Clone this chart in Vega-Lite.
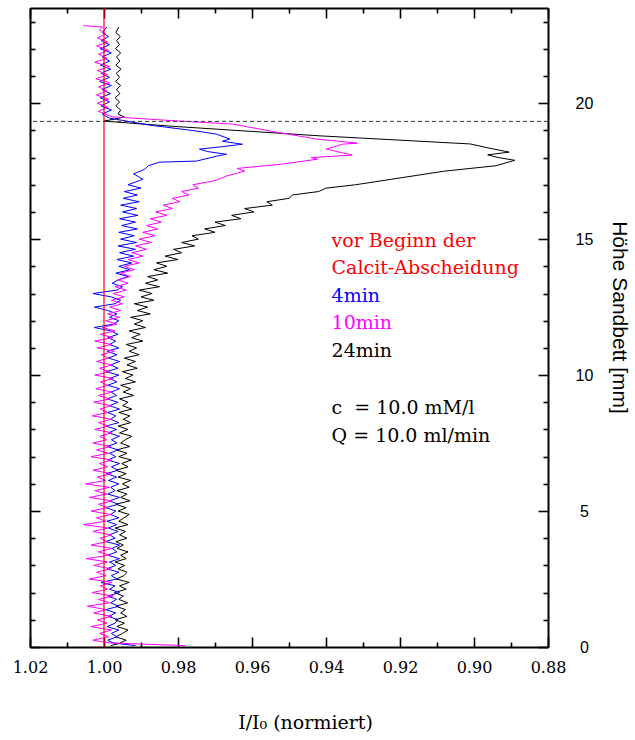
{
  "$schema": "https://vega.github.io/schema/vega-lite/v6.json",
  "width": 518,
  "height": 639,
  "padding": {"left": 12, "top": 7, "right": 4, "bottom": 0},
  "background": "white",
  "config": {
    "view": {"stroke": null},
    "axis": {
      "grid": false,
      "domainColor": "black",
      "domainWidth": 2,
      "tickColor": "black",
      "tickWidth": 1.6,
      "labelColor": "black",
      "titleColor": "black",
      "labelFont": "DejaVu Serif",
      "titleFont": "DejaVu Serif",
      "labelFontSize": 16,
      "titleFontSize": 19,
      "titleFontWeight": "normal",
      "labelFlush": false,
      "labelOverlap": false,
      "labelBound": false,
      "zindex": 1
    }
  },
  "datasets": {
    "lines": [
      {"t":"24min","h":0.05,"v":0.9982},{"t":"24min","h":0.125,"v":0.9960},{"t":"24min","h":0.25,"v":0.9940},{"t":"24min","h":0.375,"v":0.9968},
      {"t":"24min","h":0.5,"v":0.9950},{"t":"24min","h":0.625,"v":0.9935},{"t":"24min","h":0.75,"v":0.9965},{"t":"24min","h":0.875,"v":0.9945},
      {"t":"24min","h":1.0,"v":0.9970},{"t":"24min","h":1.125,"v":0.9938},{"t":"24min","h":1.25,"v":0.9955},{"t":"24min","h":1.375,"v":0.9942},
      {"t":"24min","h":1.5,"v":0.9968},{"t":"24min","h":1.625,"v":0.9936},{"t":"24min","h":1.75,"v":0.9960},{"t":"24min","h":1.875,"v":0.9948},
      {"t":"24min","h":2.0,"v":0.9972},{"t":"24min","h":2.125,"v":0.9940},{"t":"24min","h":2.25,"v":0.9958},{"t":"24min","h":2.375,"v":0.9932},
      {"t":"24min","h":2.5,"v":0.9966},{"t":"24min","h":2.625,"v":0.9946},{"t":"24min","h":2.75,"v":0.9938},{"t":"24min","h":2.875,"v":0.9962},
      {"t":"24min","h":3.0,"v":0.9944},{"t":"24min","h":3.125,"v":0.9970},{"t":"24min","h":3.25,"v":0.9940},{"t":"24min","h":3.375,"v":0.9955},
      {"t":"24min","h":3.5,"v":0.9935},{"t":"24min","h":3.625,"v":0.9965},{"t":"24min","h":3.75,"v":0.9948},{"t":"24min","h":3.875,"v":0.9968},
      {"t":"24min","h":4.0,"v":0.9938},{"t":"24min","h":4.125,"v":0.9958},{"t":"24min","h":4.25,"v":0.9942},{"t":"24min","h":4.375,"v":0.9970},
      {"t":"24min","h":4.5,"v":0.9935},{"t":"24min","h":4.625,"v":0.9960},{"t":"24min","h":4.75,"v":0.9946},{"t":"24min","h":4.875,"v":0.9932},
      {"t":"24min","h":5.0,"v":0.9962},{"t":"24min","h":5.125,"v":0.9940},{"t":"24min","h":5.25,"v":0.9968},{"t":"24min","h":5.375,"v":0.9930},
      {"t":"24min","h":5.5,"v":0.9955},{"t":"24min","h":5.625,"v":0.9938},{"t":"24min","h":5.75,"v":0.9965},{"t":"24min","h":5.875,"v":0.9932},
      {"t":"24min","h":6.0,"v":0.9950},{"t":"24min","h":6.125,"v":0.9928},{"t":"24min","h":6.25,"v":0.9962},{"t":"24min","h":6.375,"v":0.9940},
      {"t":"24min","h":6.5,"v":0.9968},{"t":"24min","h":6.625,"v":0.9935},{"t":"24min","h":6.75,"v":0.9952},{"t":"24min","h":6.875,"v":0.9926},
      {"t":"24min","h":7.0,"v":0.9960},{"t":"24min","h":7.125,"v":0.9938},{"t":"24min","h":7.25,"v":0.9966},{"t":"24min","h":7.375,"v":0.9930},
      {"t":"24min","h":7.5,"v":0.9955},{"t":"24min","h":7.625,"v":0.9942},{"t":"24min","h":7.75,"v":0.9925},{"t":"24min","h":7.875,"v":0.9958},
      {"t":"24min","h":8.0,"v":0.9935},{"t":"24min","h":8.125,"v":0.9962},{"t":"24min","h":8.25,"v":0.9928},{"t":"24min","h":8.375,"v":0.9948},
      {"t":"24min","h":8.5,"v":0.9930},{"t":"24min","h":8.625,"v":0.9960},{"t":"24min","h":8.75,"v":0.9925},{"t":"24min","h":8.875,"v":0.9950},
      {"t":"24min","h":9.0,"v":0.9935},{"t":"24min","h":9.125,"v":0.9958},{"t":"24min","h":9.25,"v":0.9920},{"t":"24min","h":9.375,"v":0.9948},
      {"t":"24min","h":9.5,"v":0.9928},{"t":"24min","h":9.625,"v":0.9955},{"t":"24min","h":9.75,"v":0.9915},{"t":"24min","h":9.875,"v":0.9942},
      {"t":"24min","h":10.0,"v":0.9922},{"t":"24min","h":10.125,"v":0.9950},{"t":"24min","h":10.25,"v":0.9910},{"t":"24min","h":10.375,"v":0.9938},
      {"t":"24min","h":10.5,"v":0.9915},{"t":"24min","h":10.625,"v":0.9945},{"t":"24min","h":10.75,"v":0.9905},{"t":"24min","h":10.875,"v":0.9932},
      {"t":"24min","h":11.0,"v":0.9912},{"t":"24min","h":11.125,"v":0.9940},{"t":"24min","h":11.25,"v":0.9895},{"t":"24min","h":11.375,"v":0.9925},
      {"t":"24min","h":11.5,"v":0.9902},{"t":"24min","h":11.625,"v":0.9932},{"t":"24min","h":11.75,"v":0.9888},{"t":"24min","h":11.875,"v":0.9918},
      {"t":"24min","h":12.0,"v":0.9895},{"t":"24min","h":12.125,"v":0.9928},{"t":"24min","h":12.25,"v":0.9875},{"t":"24min","h":12.375,"v":0.9910},
      {"t":"24min","h":12.5,"v":0.9882},{"t":"24min","h":12.625,"v":0.9918},{"t":"24min","h":12.75,"v":0.9865},{"t":"24min","h":12.875,"v":0.9900},
      {"t":"24min","h":13.0,"v":0.9870},{"t":"24min","h":13.125,"v":0.9905},{"t":"24min","h":13.25,"v":0.9850},{"t":"24min","h":13.375,"v":0.9888},
      {"t":"24min","h":13.5,"v":0.9855},{"t":"24min","h":13.625,"v":0.9882},{"t":"24min","h":13.75,"v":0.9828},{"t":"24min","h":13.875,"v":0.9865},
      {"t":"24min","h":14.0,"v":0.9830},{"t":"24min","h":14.125,"v":0.9858},{"t":"24min","h":14.25,"v":0.9800},{"t":"24min","h":14.375,"v":0.9835},
      {"t":"24min","h":14.5,"v":0.9790},{"t":"24min","h":14.625,"v":0.9812},{"t":"24min","h":14.75,"v":0.9755},{"t":"24min","h":14.875,"v":0.9790},
      {"t":"24min","h":15.0,"v":0.9745},{"t":"24min","h":15.125,"v":0.9762},{"t":"24min","h":15.25,"v":0.9700},{"t":"24min","h":15.375,"v":0.9728},
      {"t":"24min","h":15.5,"v":0.9672},{"t":"24min","h":15.625,"v":0.9700},{"t":"24min","h":15.75,"v":0.9630},{"t":"24min","h":15.875,"v":0.9655},
      {"t":"24min","h":16.0,"v":0.9595},{"t":"24min","h":16.125,"v":0.9620},{"t":"24min","h":16.25,"v":0.9545},{"t":"24min","h":16.375,"v":0.9560},
      {"t":"24min","h":16.5,"v":0.9500},{"t":"24min","h":16.625,"v":0.9490},{"t":"24min","h":16.75,"v":0.9420},{"t":"24min","h":16.875,"v":0.9400},
      {"t":"24min","h":17.0,"v":0.9320},{"t":"24min","h":17.25,"v":0.9200},{"t":"24min","h":17.5,"v":0.9080},{"t":"24min","h":17.7,"v":0.8940},
      {"t":"24min","h":17.9,"v":0.8890},{"t":"24min","h":18.0,"v":0.8935},{"t":"24min","h":18.1,"v":0.8963},{"t":"24min","h":18.2,"v":0.8905},
      {"t":"24min","h":18.35,"v":0.8960},{"t":"24min","h":18.5,"v":0.9010},{"t":"24min","h":18.8,"v":0.9418},{"t":"24min","h":19.15,"v":0.9815},
      {"t":"24min","h":19.34,"v":1.0000},{"t":"24min","h":19.49,"v":0.9945},{"t":"24min","h":19.6,"v":0.9962},{"t":"24min","h":19.75,"v":0.9955},
      {"t":"24min","h":19.9,"v":0.9968},{"t":"24min","h":20.05,"v":0.9958},{"t":"24min","h":20.2,"v":0.9970},{"t":"24min","h":20.35,"v":0.9957},
      {"t":"24min","h":20.5,"v":0.9966},{"t":"24min","h":20.65,"v":0.9955},{"t":"24min","h":20.8,"v":0.9969},{"t":"24min","h":20.95,"v":0.9958},
      {"t":"24min","h":21.1,"v":0.9967},{"t":"24min","h":21.25,"v":0.9954},{"t":"24min","h":21.4,"v":0.9968},{"t":"24min","h":21.55,"v":0.9957},
      {"t":"24min","h":21.7,"v":0.9966},{"t":"24min","h":21.85,"v":0.9955},{"t":"24min","h":22.0,"v":0.9969},{"t":"24min","h":22.15,"v":0.9958},
      {"t":"24min","h":22.3,"v":0.9966},{"t":"24min","h":22.45,"v":0.9956},{"t":"24min","h":22.6,"v":0.9968},{"t":"24min","h":22.8,"v":0.9960},

      {"t":"4min","h":0.05,"v":0.9915},{"t":"4min","h":0.15,"v":0.9975},{"t":"4min","h":0.25,"v":0.9990},{"t":"4min","h":0.375,"v":0.9965},
      {"t":"4min","h":0.5,"v":0.9980},{"t":"4min","h":0.625,"v":0.9960},{"t":"4min","h":0.75,"v":0.9992},{"t":"4min","h":0.875,"v":0.9970},
      {"t":"4min","h":1.0,"v":0.9962},{"t":"4min","h":1.125,"v":0.9988},{"t":"4min","h":1.25,"v":0.9968},{"t":"4min","h":1.375,"v":0.9995},
      {"t":"4min","h":1.5,"v":0.9960},{"t":"4min","h":1.625,"v":0.9982},{"t":"4min","h":1.75,"v":0.9966},{"t":"4min","h":1.875,"v":0.9990},
      {"t":"4min","h":2.0,"v":0.9958},{"t":"4min","h":2.125,"v":0.9985},{"t":"4min","h":2.25,"v":0.9970},{"t":"4min","h":2.375,"v":1.0008},
      {"t":"4min","h":2.5,"v":0.9965},{"t":"4min","h":2.625,"v":0.9980},{"t":"4min","h":2.75,"v":0.9960},{"t":"4min","h":2.875,"v":0.9992},
      {"t":"4min","h":3.0,"v":0.9968},{"t":"4min","h":3.125,"v":0.9985},{"t":"4min","h":3.25,"v":0.9958},{"t":"4min","h":3.375,"v":0.9990},
      {"t":"4min","h":3.5,"v":0.9965},{"t":"4min","h":3.625,"v":0.9978},{"t":"4min","h":3.75,"v":0.9958},{"t":"4min","h":3.875,"v":0.9995},
      {"t":"4min","h":4.0,"v":0.9970},{"t":"4min","h":4.125,"v":0.9985},{"t":"4min","h":4.25,"v":0.9962},{"t":"4min","h":4.375,"v":0.9988},
      {"t":"4min","h":4.5,"v":0.9966},{"t":"4min","h":4.625,"v":0.9992},{"t":"4min","h":4.75,"v":0.9960},{"t":"4min","h":4.875,"v":0.9982},
      {"t":"4min","h":5.0,"v":0.9968},{"t":"4min","h":5.125,"v":0.9995},{"t":"4min","h":5.25,"v":0.9962},{"t":"4min","h":5.375,"v":0.9985},
      {"t":"4min","h":5.5,"v":0.9958},{"t":"4min","h":5.625,"v":0.9990},{"t":"4min","h":5.75,"v":0.9970},{"t":"4min","h":5.875,"v":0.9982},
      {"t":"4min","h":6.0,"v":0.9960},{"t":"4min","h":6.125,"v":0.9988},{"t":"4min","h":6.25,"v":0.9966},{"t":"4min","h":6.375,"v":0.9994},
      {"t":"4min","h":6.5,"v":0.9962},{"t":"4min","h":6.625,"v":0.9980},{"t":"4min","h":6.75,"v":0.9958},{"t":"4min","h":6.875,"v":0.9990},
      {"t":"4min","h":7.0,"v":0.9968},{"t":"4min","h":7.125,"v":0.9985},{"t":"4min","h":7.25,"v":0.9962},{"t":"4min","h":7.375,"v":0.9992},
      {"t":"4min","h":7.5,"v":0.9965},{"t":"4min","h":7.625,"v":0.9980},{"t":"4min","h":7.75,"v":0.9958},{"t":"4min","h":7.875,"v":0.9988},
      {"t":"4min","h":8.0,"v":0.9966},{"t":"4min","h":8.125,"v":0.9995},{"t":"4min","h":8.25,"v":0.9960},{"t":"4min","h":8.375,"v":0.9982},
      {"t":"4min","h":8.5,"v":0.9968},{"t":"4min","h":8.625,"v":0.9990},{"t":"4min","h":8.75,"v":0.9958},{"t":"4min","h":8.875,"v":0.9985},
      {"t":"4min","h":9.0,"v":0.9962},{"t":"4min","h":9.125,"v":0.9992},{"t":"4min","h":9.25,"v":0.9966},{"t":"4min","h":9.375,"v":0.9980},
      {"t":"4min","h":9.5,"v":0.9958},{"t":"4min","h":9.625,"v":0.9990},{"t":"4min","h":9.75,"v":0.9965},{"t":"4min","h":9.875,"v":0.9985},
      {"t":"4min","h":10.0,"v":0.9960},{"t":"4min","h":10.125,"v":0.9995},{"t":"4min","h":10.25,"v":0.9962},{"t":"4min","h":10.375,"v":0.9982},
      {"t":"4min","h":10.5,"v":0.9958},{"t":"4min","h":10.625,"v":0.9988},{"t":"4min","h":10.75,"v":0.9965},{"t":"4min","h":10.875,"v":0.9992},
      {"t":"4min","h":11.0,"v":0.9960},{"t":"4min","h":11.125,"v":0.9985},{"t":"4min","h":11.25,"v":0.9968},{"t":"4min","h":11.375,"v":0.9990},
      {"t":"4min","h":11.5,"v":0.9962},{"t":"4min","h":11.625,"v":0.9982},{"t":"4min","h":11.75,"v":1.0026},{"t":"4min","h":11.875,"v":0.9975},
      {"t":"4min","h":12.0,"v":0.9960},{"t":"4min","h":12.125,"v":0.9985},{"t":"4min","h":12.25,"v":0.9965},{"t":"4min","h":12.375,"v":0.9990},
      {"t":"4min","h":12.5,"v":1.0026},{"t":"4min","h":12.625,"v":0.9970},{"t":"4min","h":12.75,"v":0.9955},{"t":"4min","h":12.875,"v":0.9980},
      {"t":"4min","h":13.0,"v":1.0030},{"t":"4min","h":13.125,"v":0.9965},{"t":"4min","h":13.25,"v":0.9950},{"t":"4min","h":13.375,"v":0.9978},
      {"t":"4min","h":13.5,"v":0.9962},{"t":"4min","h":13.625,"v":0.9935},{"t":"4min","h":13.75,"v":0.9968},{"t":"4min","h":13.875,"v":0.9930},
      {"t":"4min","h":14.0,"v":0.9960},{"t":"4min","h":14.125,"v":0.9925},{"t":"4min","h":14.25,"v":0.9965},{"t":"4min","h":14.375,"v":0.9920},
      {"t":"4min","h":14.5,"v":0.9958},{"t":"4min","h":14.625,"v":0.9915},{"t":"4min","h":14.75,"v":0.9962},{"t":"4min","h":14.875,"v":0.9912},
      {"t":"4min","h":15.0,"v":0.9955},{"t":"4min","h":15.125,"v":0.9918},{"t":"4min","h":15.25,"v":0.9960},{"t":"4min","h":15.375,"v":0.9910},
      {"t":"4min","h":15.5,"v":0.9952},{"t":"4min","h":15.625,"v":0.9915},{"t":"4min","h":15.75,"v":0.9958},{"t":"4min","h":15.875,"v":0.9908},
      {"t":"4min","h":16.0,"v":0.9950},{"t":"4min","h":16.125,"v":0.9912},{"t":"4min","h":16.25,"v":0.9955},{"t":"4min","h":16.375,"v":0.9905},
      {"t":"4min","h":16.5,"v":0.9948},{"t":"4min","h":16.625,"v":0.9910},{"t":"4min","h":16.75,"v":0.9945},{"t":"4min","h":16.875,"v":0.9900},
      {"t":"4min","h":17.0,"v":0.9935},{"t":"4min","h":17.2,"v":0.9895},{"t":"4min","h":17.4,"v":0.9920},
      {"t":"4min","h":17.57,"v":0.9890},{"t":"4min","h":17.7,"v":0.9880},{"t":"4min","h":17.83,"v":0.9850},{"t":"4min","h":17.87,"v":0.9750},
      {"t":"4min","h":18.05,"v":0.9696},{"t":"4min","h":18.12,"v":0.9669},{"t":"4min","h":18.22,"v":0.9720},{"t":"4min","h":18.31,"v":0.9742},
      {"t":"4min","h":18.4,"v":0.9680},{"t":"4min","h":18.49,"v":0.9626},{"t":"4min","h":18.6,"v":0.9680},{"t":"4min","h":18.68,"v":0.9660},
      {"t":"4min","h":18.86,"v":0.9696},{"t":"4min","h":18.97,"v":0.9747},{"t":"4min","h":19.2,"v":0.9880},{"t":"4min","h":19.45,"v":0.9985},
      {"t":"4min","h":19.6,"v":1.0005},{"t":"4min","h":19.75,"v":0.9980},{"t":"4min","h":19.9,"v":1.0008},{"t":"4min","h":20.05,"v":0.9985},
      {"t":"4min","h":20.2,"v":1.0010},{"t":"4min","h":20.35,"v":0.9982},{"t":"4min","h":20.5,"v":1.0005},{"t":"4min","h":20.65,"v":0.9980},
      {"t":"4min","h":20.8,"v":1.0012},{"t":"4min","h":20.95,"v":0.9985},{"t":"4min","h":21.1,"v":1.0008},{"t":"4min","h":21.25,"v":0.9982},
      {"t":"4min","h":21.4,"v":1.0010},{"t":"4min","h":21.55,"v":0.9985},{"t":"4min","h":21.7,"v":1.0005},{"t":"4min","h":21.85,"v":0.9980},
      {"t":"4min","h":22.0,"v":1.0010},{"t":"4min","h":22.15,"v":0.9985},{"t":"4min","h":22.3,"v":1.0008},{"t":"4min","h":22.45,"v":0.9988},
      {"t":"4min","h":22.6,"v":1.0005},{"t":"4min","h":22.8,"v":0.9992},

      {"t":"10min","h":0.05,"v":0.9780},{"t":"10min","h":0.15,"v":0.9985},{"t":"10min","h":0.25,"v":1.0030},{"t":"10min","h":0.375,"v":0.9988},
      {"t":"10min","h":0.5,"v":1.0012},{"t":"10min","h":0.625,"v":0.9980},{"t":"10min","h":0.75,"v":1.0035},{"t":"10min","h":0.875,"v":0.9992},
      {"t":"10min","h":1.0,"v":1.0018},{"t":"10min","h":1.125,"v":0.9978},{"t":"10min","h":1.25,"v":1.0028},{"t":"10min","h":1.375,"v":0.9995},
      {"t":"10min","h":1.5,"v":1.0045},{"t":"10min","h":1.625,"v":0.9985},{"t":"10min","h":1.75,"v":1.0015},{"t":"10min","h":1.875,"v":0.9975},
      {"t":"10min","h":2.0,"v":1.0032},{"t":"10min","h":2.125,"v":0.9990},{"t":"10min","h":2.25,"v":1.0010},{"t":"10min","h":2.375,"v":0.9978},
      {"t":"10min","h":2.5,"v":1.0040},{"t":"10min","h":2.625,"v":0.9995},{"t":"10min","h":2.75,"v":1.0020},{"t":"10min","h":2.875,"v":0.9982},
      {"t":"10min","h":3.0,"v":1.0028},{"t":"10min","h":3.125,"v":0.9990},{"t":"10min","h":3.25,"v":1.0048},{"t":"10min","h":3.375,"v":0.9985},
      {"t":"10min","h":3.5,"v":1.0015},{"t":"10min","h":3.625,"v":0.9978},{"t":"10min","h":3.75,"v":1.0035},{"t":"10min","h":3.875,"v":0.9992},
      {"t":"10min","h":4.0,"v":1.0010},{"t":"10min","h":4.125,"v":0.9980},{"t":"10min","h":4.25,"v":1.0030},{"t":"10min","h":4.375,"v":0.9988},
      {"t":"10min","h":4.5,"v":1.0055},{"t":"10min","h":4.625,"v":0.9995},{"t":"10min","h":4.75,"v":1.0020},{"t":"10min","h":4.875,"v":0.9982},
      {"t":"10min","h":5.0,"v":1.0035},{"t":"10min","h":5.125,"v":0.9990},{"t":"10min","h":5.25,"v":1.0015},{"t":"10min","h":5.375,"v":0.9978},
      {"t":"10min","h":5.5,"v":1.0040},{"t":"10min","h":5.625,"v":0.9992},{"t":"10min","h":5.75,"v":1.0025},{"t":"10min","h":5.875,"v":0.9985},
      {"t":"10min","h":6.0,"v":1.0050},{"t":"10min","h":6.125,"v":0.9995},{"t":"10min","h":6.25,"v":1.0018},{"t":"10min","h":6.375,"v":0.9980},
      {"t":"10min","h":6.5,"v":1.0030},{"t":"10min","h":6.625,"v":0.9990},{"t":"10min","h":6.75,"v":1.0012},{"t":"10min","h":6.875,"v":0.9978},
      {"t":"10min","h":7.0,"v":1.0035},{"t":"10min","h":7.125,"v":0.9988},{"t":"10min","h":7.25,"v":1.0020},{"t":"10min","h":7.375,"v":0.9982},
      {"t":"10min","h":7.5,"v":1.0030},{"t":"10min","h":7.625,"v":0.9992},{"t":"10min","h":7.75,"v":1.0012},{"t":"10min","h":7.875,"v":0.9978},
      {"t":"10min","h":8.0,"v":1.0025},{"t":"10min","h":8.125,"v":0.9988},{"t":"10min","h":8.25,"v":1.0015},{"t":"10min","h":8.375,"v":0.9980},
      {"t":"10min","h":8.5,"v":1.0032},{"t":"10min","h":8.625,"v":0.9990},{"t":"10min","h":8.75,"v":1.0010},{"t":"10min","h":8.875,"v":0.9982},
      {"t":"10min","h":9.0,"v":1.0028},{"t":"10min","h":9.125,"v":0.9985},{"t":"10min","h":9.25,"v":1.0015},{"t":"10min","h":9.375,"v":0.9978},
      {"t":"10min","h":9.5,"v":1.0022},{"t":"10min","h":9.625,"v":0.9990},{"t":"10min","h":9.75,"v":1.0010},{"t":"10min","h":9.875,"v":0.9975},
      {"t":"10min","h":10.0,"v":1.0025},{"t":"10min","h":10.125,"v":0.9985},{"t":"10min","h":10.25,"v":1.0012},{"t":"10min","h":10.375,"v":0.9978},
      {"t":"10min","h":10.5,"v":1.0020},{"t":"10min","h":10.625,"v":0.9988},{"t":"10min","h":10.75,"v":1.0008},{"t":"10min","h":10.875,"v":0.9972},
      {"t":"10min","h":11.0,"v":1.0018},{"t":"10min","h":11.125,"v":0.9980},{"t":"10min","h":11.25,"v":1.0025},{"t":"10min","h":11.375,"v":0.9975},
      {"t":"10min","h":11.5,"v":1.0010},{"t":"10min","h":11.625,"v":0.9970},{"t":"10min","h":11.75,"v":1.0005},{"t":"10min","h":11.875,"v":0.9965},
      {"t":"10min","h":12.0,"v":0.9995},{"t":"10min","h":12.125,"v":0.9958},{"t":"10min","h":12.25,"v":0.9990},{"t":"10min","h":12.375,"v":0.9955},
      {"t":"10min","h":12.5,"v":0.9985},{"t":"10min","h":12.625,"v":0.9950},{"t":"10min","h":12.75,"v":0.9980},{"t":"10min","h":12.875,"v":0.9945},
      {"t":"10min","h":13.0,"v":0.9975},{"t":"10min","h":13.125,"v":0.9940},{"t":"10min","h":13.25,"v":0.9970},{"t":"10min","h":13.375,"v":0.9935},
      {"t":"10min","h":13.5,"v":0.9962},{"t":"10min","h":13.625,"v":0.9928},{"t":"10min","h":13.75,"v":0.9955},{"t":"10min","h":13.875,"v":0.9918},
      {"t":"10min","h":14.0,"v":0.9945},{"t":"10min","h":14.125,"v":0.9905},{"t":"10min","h":14.25,"v":0.9935},{"t":"10min","h":14.375,"v":0.9895},
      {"t":"10min","h":14.5,"v":0.9925},{"t":"10min","h":14.625,"v":0.9885},{"t":"10min","h":14.75,"v":0.9915},{"t":"10min","h":14.875,"v":0.9872},
      {"t":"10min","h":15.0,"v":0.9905},{"t":"10min","h":15.125,"v":0.9862},{"t":"10min","h":15.25,"v":0.9895},{"t":"10min","h":15.375,"v":0.9855},
      {"t":"10min","h":15.5,"v":0.9885},{"t":"10min","h":15.625,"v":0.9845},{"t":"10min","h":15.75,"v":0.9875},{"t":"10min","h":15.875,"v":0.9830},
      {"t":"10min","h":16.0,"v":0.9860},{"t":"10min","h":16.125,"v":0.9815},{"t":"10min","h":16.25,"v":0.9840},{"t":"10min","h":16.375,"v":0.9795},
      {"t":"10min","h":16.5,"v":0.9815},{"t":"10min","h":16.625,"v":0.9770},{"t":"10min","h":16.75,"v":0.9790},{"t":"10min","h":16.875,"v":0.9745},
      {"t":"10min","h":17.0,"v":0.9760},{"t":"10min","h":17.15,"v":0.9700},{"t":"10min","h":17.32,"v":0.9669},
      {"t":"10min","h":17.5,"v":0.9620},{"t":"10min","h":17.6,"v":0.9640},{"t":"10min","h":17.76,"v":0.9518},{"t":"10min","h":17.94,"v":0.9423},
      {"t":"10min","h":18.0,"v":0.9440},{"t":"10min","h":18.09,"v":0.9329},{"t":"10min","h":18.31,"v":0.9399},{"t":"10min","h":18.49,"v":0.9356},
      {"t":"10min","h":18.53,"v":0.9315},{"t":"10min","h":18.68,"v":0.9426},{"t":"10min","h":19.0,"v":0.9560},{"t":"10min","h":19.23,"v":0.9652},
      {"t":"10min","h":19.37,"v":0.9830},{"t":"10min","h":19.5,"v":0.9978},{"t":"10min","h":19.7,"v":1.0015},{"t":"10min","h":19.85,"v":0.9990},
      {"t":"10min","h":20.0,"v":1.0018},{"t":"10min","h":20.15,"v":0.9988},{"t":"10min","h":20.3,"v":1.0020},{"t":"10min","h":20.45,"v":0.9992},
      {"t":"10min","h":20.6,"v":1.0015},{"t":"10min","h":20.75,"v":0.9985},{"t":"10min","h":20.9,"v":1.0022},{"t":"10min","h":21.05,"v":0.9990},
      {"t":"10min","h":21.2,"v":1.0018},{"t":"10min","h":21.35,"v":0.9985},{"t":"10min","h":21.5,"v":1.0025},{"t":"10min","h":21.65,"v":0.9992},
      {"t":"10min","h":21.8,"v":1.0015},{"t":"10min","h":21.95,"v":0.9988},{"t":"10min","h":22.1,"v":1.0020},{"t":"10min","h":22.25,"v":0.9990},
      {"t":"10min","h":22.4,"v":1.0018},{"t":"10min","h":22.55,"v":0.9995},{"t":"10min","h":22.7,"v":1.0012},{"t":"10min","h":22.8,"v":1.0004},
      {"t":"10min","h":22.85,"v":1.0056}
    ],
    "ref": [{"t":"vor","v":1.0}],
    "sand": [{"h":19.33}],
    "legend": [
      {"t":"vor","v":0.9385,"h":14.71,"label":"vor Beginn der"},
      {"t":"vor","v":0.9385,"h":13.71,"label":"Calcit-Abscheidung"},
      {"t":"4min","v":0.9385,"h":12.68,"label":"4min"},
      {"t":"10min","v":0.9385,"h":11.69,"label":"10min"},
      {"t":"24min","v":0.9385,"h":10.66,"label":"24min"}
    ],
    "info": [
      {"v":0.9385,"h":8.57,"label":"c\u00a0 = 10.0 mM/l"},
      {"v":0.9385,"h":7.54,"label":"Q = 10.0 ml/min"}
    ]
  },
  "layer": [
    {
      "data": {"name": "lines"},
      "mark": {"type": "line", "strokeWidth": 1, "interpolate": "linear"},
      "encoding": {
        "x": {"field": "v", "type": "quantitative",
          "scale": {"domain": [0.88, 1.02], "reverse": true, "nice": false, "zero": false},
          "axis": {"orient": "bottom", "values": [0.88,0.9,0.92,0.94,0.96,0.98,1.0,1.02], "format": ".2f",
            "tickSize": -10, "labelPadding": 22, "title": "I/I\u2080 (normiert)",
            "titleX": 275, "titleY": 81, "titleBaseline": "alphabetic", "titleAlign": "center"}},
        "y": {"field": "h", "type": "quantitative",
          "scale": {"domain": [0, 23.5], "nice": false, "zero": false},
          "axis": {"orient": "right", "values": [0,5,10,15,20], "format": "d",
            "tickSize": -10, "labelPadding": 46, "labelAlign": "center", "labelBaseline": "middle",
            "labelFont": "Liberation Sans", "labelFontSize": 16,
            "title": "Höhe Sandbett [mm]", "titleFont": "Liberation Sans", "titleFontSize": 21,
            "titleAngle": 90, "titleX": 70, "titleY": 309,
            "titleAlign": "center", "titleBaseline": "middle"}},
        "color": {"field": "t", "type": "nominal",
          "scale": {"domain": ["vor","4min","10min","24min"], "range": ["#ff0000","#0000ff","#ff00ff","#000000"]},
          "legend": null},
        "order": {"field": "h", "type": "quantitative"}
      }
    },
    {
      "data": {"name": "ref"},
      "mark": {"type": "rule", "strokeWidth": 1.2},
      "encoding": {
        "x": {"field": "v", "type": "quantitative",
          "scale": {"domain": [0.88, 1.02], "reverse": true, "nice": false, "zero": false},
          "axis": {"orient": "bottom", "values": [0.89,0.91,0.93,0.95,0.97,0.99,1.01],
            "tickSize": -5, "labels": false, "domain": false, "title": null}},
        "color": {"field": "t", "type": "nominal",
          "scale": {"domain": ["vor","4min","10min","24min"], "range": ["#ff0000","#0000ff","#ff00ff","#000000"]},
          "legend": null}
      }
    },
    {
      "data": {"name": "sand"},
      "mark": {"type": "rule", "strokeWidth": 1, "strokeDash": [4, 3], "color": "#333333"},
      "encoding": {
        "y": {"field": "h", "type": "quantitative",
          "scale": {"domain": [0, 23.5], "nice": false, "zero": false},
          "axis": {"orient": "right", "values": [1,2,3,4,6,7,8,9,11,12,13,14,16,17,18,19,21,22,23],
            "tickSize": -5, "labels": false, "domain": false, "title": null}}
      }
    },
    {
      "data": {"name": "legend"},
      "mark": {"type": "text", "align": "left", "baseline": "alphabetic", "font": "DejaVu Serif", "fontSize": 19},
      "encoding": {
        "x": {"field": "v", "type": "quantitative",
          "scale": {"domain": [0.88, 1.02], "reverse": true, "nice": false, "zero": false},
          "axis": {"orient": "top", "values": [0.88,0.9,0.92,0.94,0.96,0.98,1.0,1.02],
            "tickSize": -10, "labels": false, "title": null}},
        "y": {"field": "h", "type": "quantitative",
          "scale": {"domain": [0, 23.5], "nice": false, "zero": false},
          "axis": {"orient": "left", "values": [0,5,10,15,20],
            "tickSize": -10, "labels": false, "title": null}},
        "text": {"field": "label"},
        "color": {"field": "t", "type": "nominal",
          "scale": {"domain": ["vor","4min","10min","24min"], "range": ["#ff0000","#0000ff","#ff00ff","#000000"]},
          "legend": null}
      }
    },
    {
      "data": {"name": "info"},
      "mark": {"type": "text", "align": "left", "baseline": "alphabetic", "font": "DejaVu Serif", "fontSize": 19, "color": "black"},
      "encoding": {
        "x": {"field": "v", "type": "quantitative",
          "scale": {"domain": [0.88, 1.02], "reverse": true, "nice": false, "zero": false},
          "axis": {"orient": "top", "values": [0.89,0.91,0.93,0.95,0.97,0.99,1.01],
            "tickSize": -5, "labels": false, "domain": false, "title": null}},
        "y": {"field": "h", "type": "quantitative",
          "scale": {"domain": [0, 23.5], "nice": false, "zero": false},
          "axis": {"orient": "left", "values": [1,2,3,4,6,7,8,9,11,12,13,14,16,17,18,19,21,22,23],
            "tickSize": -5, "labels": false, "domain": false, "title": null}},
        "text": {"field": "label"}
      }
    }
  ],
  "resolve": {"axis": {"x": "independent", "y": "independent"}}
}
